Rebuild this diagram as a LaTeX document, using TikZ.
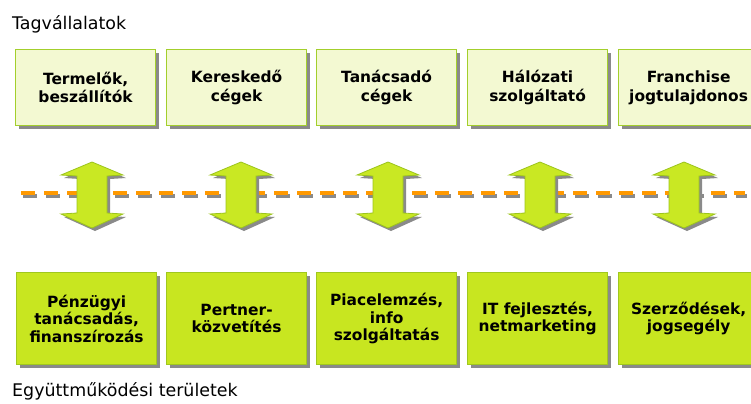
\documentclass[tikz,border=0pt]{standalone}
\usepackage{fontspec}
\setmainfont{DejaVu Sans}
\usetikzlibrary{shadows}
\definecolor{topfill}{HTML}{F3F9D2}
\definecolor{boxedge}{HTML}{A3CF2C}
\definecolor{botfill}{HTML}{C8E620}
\definecolor{botedge}{HTML}{A0C81E}
\definecolor{arrfill}{HTML}{C9E823}
\definecolor{arredge}{HTML}{9CC41C}
\definecolor{shadowgray}{HTML}{8A8A8A}
\definecolor{dashorange}{HTML}{FF9900}

\begin{document}

\begin{tikzpicture}[x=1bp,y=-1bp,
  boxbase/.style={line width=1.2bp, minimum width=140bp, inner sep=0pt,
    align=center, anchor=north west,
    font=\bfseries\fontsize{15.5}{18.5}\selectfont,
    drop shadow={shadow xshift=3bp, shadow yshift=-3bp, fill=shadowgray, opacity=1}},
  topbox/.style={boxbase, draw=boxedge, fill=topfill, minimum height=76bp},
  botbox/.style={boxbase, draw=botedge, fill=botfill, minimum height=92bp,
    font=\bfseries\fontsize{15.5}{17.5}\selectfont},
  caption/.style={anchor=west, inner sep=0pt, font=\fontsize{17.5}{20}\selectfont},
  dashline/.style={line width=3.6bp, dash pattern=on 14bp off 9bp},
  arrowshape/.style={fill=arrfill, draw=arredge, line width=0.8bp}
]
\useasboundingbox (0,0) rectangle (751,403);

\node[caption] (title1) at (12,24) {Tagvállalatok};
\node[caption] (title2) at (12,391) {Együttműködési területek};

\node[topbox] (t1) at (15,49)  {Termelők,\\beszállítók};
\node[topbox] (t2) at (166,49) {Kereskedő\\cégek};
\node[topbox] (t3) at (316,49) {Tanácsadó\\cégek};
\node[topbox] (t4) at (467,49) {Hálózati\\szolgáltató};
\node[topbox] (t5) at (618,49) {Franchise\\jogtulajdonos};

\node[botbox] (b1) at (16,272)  {Pénzügyi\\tanácsadás,\\finanszírozás};
\node[botbox] (b2) at (166,272) {Pertner-\\közvetítés};
\node[botbox] (b3) at (316,272) {Piacelemzés,\\info\\szolgáltatás};
\node[botbox] (b4) at (467,272) {IT fejlesztés,\\netmarketing};
\node[botbox] (b5) at (618,272) {Szerződések,\\jogsegély};

\coordinate (dl) at (21,193);
\coordinate (dr) at (745,193);
\draw[dashline, shadowgray] ([shift={(2,3)}]dl) -- ([shift={(2,3)}]dr);
\draw[dashline, dashorange] (dl) -- (dr);

\foreach \cx in {92,241,388,540,684}{
  \fill[shadowgray, shift={(3,3)}]
    (\cx,162) -- (\cx+31,175) -- (\cx+15,176) -- (\cx+15,213) -- (\cx+31,214)
    -- (\cx,228) -- (\cx-31,214) -- (\cx-15,213) -- (\cx-15,176) -- (\cx-31,175) -- cycle;
  \path[arrowshape]
    (\cx,162) -- (\cx+31,175) -- (\cx+15,176) -- (\cx+15,213) -- (\cx+31,214)
    -- (\cx,228) -- (\cx-31,214) -- (\cx-15,213) -- (\cx-15,176) -- (\cx-31,175) -- cycle;
}
\end{tikzpicture}

\end{document}
